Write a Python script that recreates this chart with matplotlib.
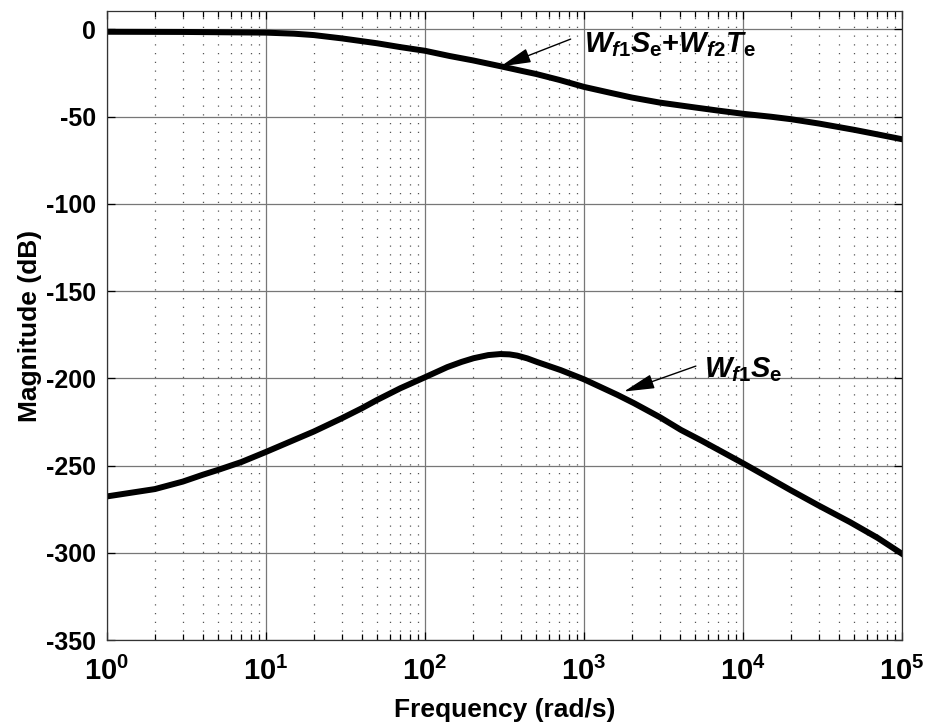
import numpy as np
import matplotlib.pyplot as plt
from matplotlib.ticker import FixedLocator, LogLocator, NullFormatter

plt.rcParams['font.family'] = ['Liberation Sans', 'DejaVu Sans']
plt.rcParams['font.weight'] = 'bold'
plt.rcParams['mathtext.fontset'] = 'custom'
plt.rcParams['mathtext.rm'] = 'Liberation Sans:bold'
plt.rcParams['mathtext.bf'] = 'Liberation Sans:bold'
plt.rcParams['mathtext.it'] = 'Liberation Sans:bold:italic'

# Magnitude responses read at selected frequencies (rad/s)
w_total = [1, 3, 10, 15, 20, 30, 50, 70, 100, 143, 200, 300, 400, 500, 700, 1000,
           1500, 2000, 3000, 5000, 7000, 1e4, 1.5e4, 2e4, 3e4, 5e4, 7e4, 1e5]
mag_total = [-1.4, -1.5, -1.9, -2.5, -3.3, -5.2, -8.0, -10.2, -12.3, -15.3, -17.8,
             -21.2, -23.7, -25.6, -29.0, -33.0, -36.6, -39.1, -42.0, -44.8, -46.6,
             -48.4, -50.1, -51.5, -54.0, -57.6, -60.2, -63.0]

w_sens = [1, 2, 3, 4, 5, 7, 10, 20, 30, 40, 50, 70, 100, 138, 170, 202, 250, 298,
          340, 380, 440, 508, 713, 1000, 1622, 2065, 3000, 4070, 5500, 7000, 1e4,
          1.4e4, 2e4, 3e4, 4.7e4, 7e4, 1e5]
mag_sens = [-267.7, -263.5, -259.2, -255.3, -252.5, -248.0, -242.2, -230.5, -222.9,
            -217.2, -212.4, -205.7, -199.4, -193.6, -190.6, -188.5, -186.7, -186.1,
            -186.3, -187.0, -188.6, -190.7, -195.3, -200.6, -209.5, -214.3, -222.3,
            -229.6, -235.8, -241.0, -248.7, -256.2, -264.2, -273.0, -282.4, -291.4,
            -300.6]

yticks = [-350, -300, -250, -200, -150, -100, -50, 0]
xticks = [1, 10, 100, 1000, 1e4, 1e5]

fig = plt.figure(figsize=(9.27, 7.24), dpi=100)
ax = fig.add_axes([0.1154, 0.116, 0.8577, 0.8688])

ax.semilogx(w_total, mag_total, color='black', lw=4.3, solid_joinstyle='round')
ax.semilogx(w_sens, mag_sens, color='black', lw=4.3, solid_joinstyle='round')

ax.set_xlim(1, 1e5)
ax.set_ylim(-350, 10.5)
ax.set_yticks(yticks)
ax.set_yticklabels([str(t) for t in yticks])
ax.xaxis.set_major_locator(FixedLocator(xticks))
ax.set_xticklabels([r'$\mathbf{10^{%d}}$' % int(np.log10(t)) for t in xticks])
ax.xaxis.set_minor_locator(LogLocator(base=10, subs=np.arange(2, 10), numticks=20))
ax.xaxis.set_minor_formatter(NullFormatter())

ax.grid(True, which='major', color='#777777', lw=0.9, ls='-')
ax.grid(True, which='minor', axis='x', color='#555555', lw=0.9, ls=(0, (1, 6)))
ax.set_axisbelow(True)

ax.tick_params(which='both', direction='in', top=True, right=True)
ax.tick_params(which='major', length=6, width=0.9)
ax.tick_params(which='minor', length=4, width=0.9)
ax.tick_params(axis='y', labelsize=18, pad=8)
ax.tick_params(axis='x', which='major', pad=12, labelsize=21)
for s in ax.spines.values():
    s.set_linewidth(0.9)
    s.set_color('#333333')

ax.set_xlabel('Frequency (rad/s)', fontsize=19, fontweight='bold', labelpad=9)
ax.set_ylabel('Magnitude (dB)', fontsize=19, fontweight='bold', labelpad=3)

# pointer arrows and their labels
arrow = dict(arrowstyle='-|>,head_length=1.9,head_width=0.45', color='black', lw=1.0,
             shrinkA=0, shrinkB=0, mutation_scale=10)
ax.annotate('', xy=(298, -21.3), xytext=(824, -5.6), arrowprops=arrow)
ax.annotate('', xy=(1783, -207.6), xytext=(5050, -193.0), arrowprops=arrow)
ax.text(995, -8.9, r'$W_{f1}S_{\mathrm{e}}$+$W_{f2}T_{\mathrm{e}}$', fontsize=21,
        ha='left', va='center')
ax.text(5670, -195.2, r'$W_{f1}S_{\mathrm{e}}$', fontsize=21, ha='left', va='center')

fig.savefig('out.png', dpi=100)
